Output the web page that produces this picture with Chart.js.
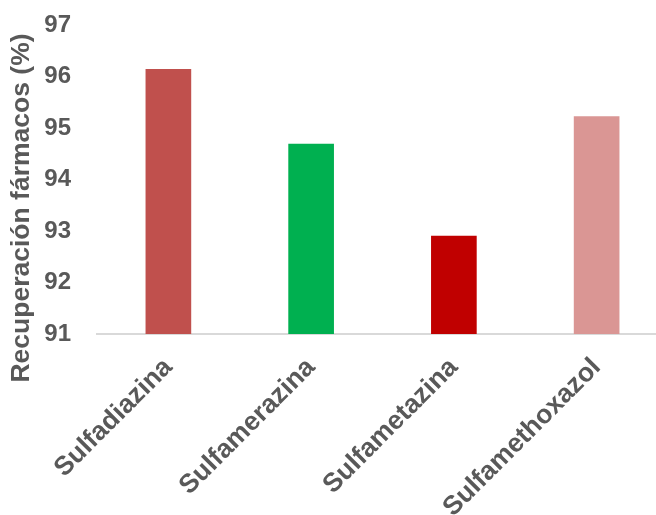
<!DOCTYPE html>
<html>
<head>
<meta charset="utf-8">
<script src="https://cdn.jsdelivr.net/npm/chart.js@4"></script>
<style>
  html, body { margin: 0; padding: 0; background: #ffffff; overflow: hidden; }
  #wrap { width: 656px; height: 515px; overflow: hidden; }
  canvas { display: block; }
</style>
</head>
<body>
<div id="wrap"><canvas id="c" width="668" height="515"></canvas></div>
<script>
// Drug recovery percentages per sulfonamide
const categories = ['Sulfadiazina', 'Sulfamerazina', 'Sulfametazina', 'Sulfamethoxazol'];
const recovery = [96.14, 94.69, 92.90, 95.22];
const barColors = ['#C0504D', '#00B050', '#C00000', '#DA9694'];
const yTitle = 'Recuperación fármacos (%)';
const yMin = 91;
const yMax = 97;

const TEXT = '#595959';
const FONT = "'Liberation Sans', Arial, sans-serif";

// Vertical axis title, drawn beside the tick labels
const sideTitle = {
  id: 'sideTitle',
  afterDraw(chart) {
    const ctx = chart.ctx;
    ctx.save();
    ctx.translate(22, 208);
    ctx.rotate(-Math.PI / 2);
    ctx.font = 'bold 26.5px ' + FONT;
    ctx.fillStyle = TEXT;
    ctx.textAlign = 'center';
    ctx.textBaseline = 'middle';
    ctx.fillText(yTitle, 0, 0);
    ctx.restore();
  }
};

new Chart(document.getElementById('c'), {
  type: 'bar',
  data: {
    labels: categories,
    datasets: [{
      data: recovery,
      backgroundColor: barColors,
      borderWidth: 0,
      barThickness: 45
    }]
  },
  options: {
    responsive: false,
    animation: false,
    layout: { padding: { top: 25, left: 0, right: 0, bottom: 0 } },
    plugins: {
      legend: { display: false },
      tooltip: { enabled: false },
      title: { display: false }
    },
    scales: {
      x: {
        grid: { display: false, drawTicks: false },
        border: { display: true, color: '#D9D9D9', width: 2 },
        ticks: {
          color: TEXT,
          font: { family: FONT, size: 26.5, weight: 'bold' },
          minRotation: 45,
          maxRotation: 45,
          padding: 18
        },
        afterFit(scale) {
          scale.height = 181;
          scale.paddingLeft = 0;
          scale.paddingRight = 0;
        }
      },
      y: {
        min: yMin,
        max: yMax,
        grid: { display: false, drawTicks: false },
        border: { display: false },
        ticks: {
          stepSize: 1,
          color: TEXT,
          font: { family: FONT, size: 24, weight: 'bold' },
          padding: 26
        },
        afterFit(scale) {
          scale.width = 97;
          scale.paddingTop = 0;
          scale.paddingBottom = 0;
        }
      }
    }
  },
  plugins: [sideTitle]
});
</script>
</body>
</html>
